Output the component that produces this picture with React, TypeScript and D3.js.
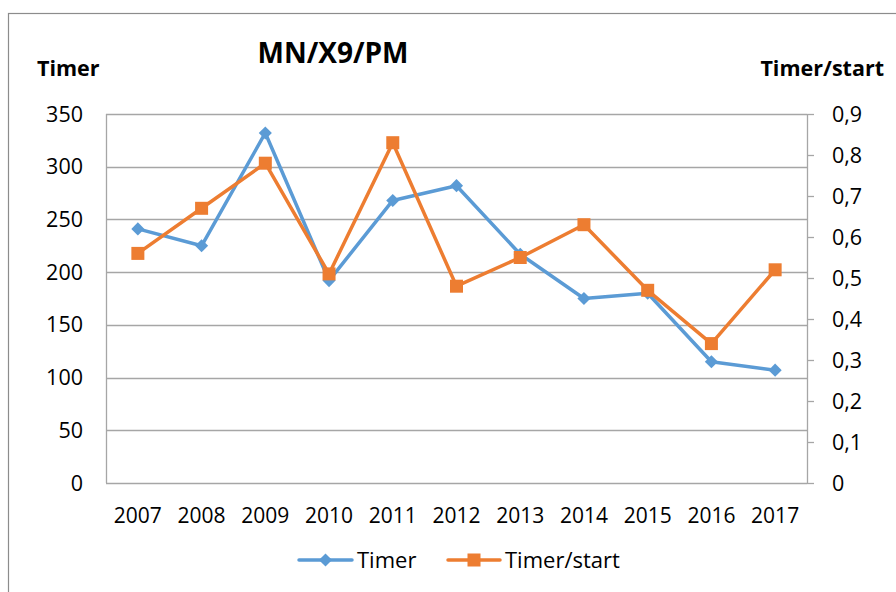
import React, { useRef, useEffect } from 'react';
import * as d3 from 'd3';

const years = ['2007', '2008', '2009', '2010', '2011', '2012', '2013', '2014', '2015', '2016', '2017'];
const timer = [241, 225, 332, 192, 268, 282, 217, 175, 180, 115, 107];
const timerPerStart = [0.56, 0.67, 0.78, 0.51, 0.83, 0.48, 0.55, 0.63, 0.47, 0.34, 0.52];
const leftTicks = [0, 50, 100, 150, 200, 250, 300, 350];
const rightTicks = [0, 0.1, 0.2, 0.3, 0.4, 0.5, 0.6, 0.7, 0.8, 0.9];

const BLUE = '#5B9BD5';
const ORANGE = '#ED7D31';
const GRID = '#A6A6A6';
const FONT = '"Open Sans", "Noto Sans", sans-serif';

const App: React.FC = () => {
  const ref = useRef<SVGSVGElement | null>(null);

  useEffect(() => {
    if (!ref.current) return;
    const svg = d3.select(ref.current);
    svg.selectAll('*').remove();

    const width = 896;
    const height = 592;
    const plot = { left: 106, right: 807, top: 114, bottom: 483 };

    // outer chart frame
    svg.append('rect')
      .attr('x', 8.5).attr('y', 13.5)
      .attr('width', 900).attr('height', 600)
      .attr('fill', 'white').attr('stroke', '#8c8c8c').attr('stroke-width', 1.2);

    const x = d3.scaleBand().domain(years).range([plot.left, plot.right]);
    const yL = d3.scaleLinear().domain([0, 350]).range([plot.bottom, plot.top]);
    const yR = d3.scaleLinear().domain([0, 0.9]).range([plot.bottom, plot.top]);

    // gridlines
    svg.append('g').selectAll('line')
      .data(leftTicks)
      .enter().append('line')
      .attr('x1', plot.left).attr('x2', plot.right)
      .attr('y1', d => Math.round(yL(d)) + 0.5).attr('y2', d => Math.round(yL(d)) + 0.5)
      .attr('stroke', GRID).attr('stroke-width', 1.3);

    // left axis line
    svg.append('line')
      .attr('x1', plot.left + 0.5).attr('x2', plot.left + 0.5)
      .attr('y1', plot.top).attr('y2', plot.bottom)
      .attr('stroke', GRID).attr('stroke-width', 1.3);

    // right axis line + ticks
    svg.append('line')
      .attr('x1', plot.right + 0.5).attr('x2', plot.right + 0.5)
      .attr('y1', plot.top).attr('y2', plot.bottom)
      .attr('stroke', GRID).attr('stroke-width', 1.3);
    svg.append('g').selectAll('line')
      .data(rightTicks)
      .enter().append('line')
      .attr('x1', plot.right).attr('x2', plot.right + 7)
      .attr('y1', d => Math.round(yR(d)) + 0.5).attr('y2', d => Math.round(yR(d)) + 0.5)
      .attr('stroke', GRID).attr('stroke-width', 1.3);

    // tick labels
    svg.append('g').selectAll('text')
      .data(leftTicks)
      .enter().append('text')
      .attr('x', 83).attr('y', d => yL(d) + 7.5)
      .attr('text-anchor', 'end')
      .attr('font-family', FONT).attr('font-size', 21.5).attr('fill', '#000')
      .text(d => String(d));

    svg.append('g').selectAll('text')
      .data(rightTicks)
      .enter().append('text')
      .attr('x', 832).attr('y', d => yR(d) + 7.5)
      .attr('text-anchor', 'start')
      .attr('font-family', FONT).attr('font-size', 21.5).attr('fill', '#000')
      .text(d => (d === 0 ? '0' : d3.format('.1f')(d).replace('.', ',')));

    svg.append('g').selectAll('text')
      .data(years)
      .enter().append('text')
      .attr('x', d => (x(d) as number) + x.bandwidth() / 2)
      .attr('y', 523)
      .attr('text-anchor', 'middle')
      .attr('font-family', FONT).attr('font-size', 21).attr('fill', '#000')
      .text(d => d);

    // titles
    svg.append('text')
      .attr('x', 333).attr('y', 63).attr('text-anchor', 'middle')
      .attr('font-family', FONT).attr('font-size', 28).attr('font-weight', 'bold')
      .text('MN/X9/PM');
    svg.append('text')
      .attr('x', 37).attr('y', 76)
      .attr('font-family', FONT).attr('font-size', 21.5).attr('font-weight', 'bold')
      .text('Timer');
    svg.append('text')
      .attr('x', 884).attr('y', 76).attr('text-anchor', 'end')
      .attr('font-family', FONT).attr('font-size', 21.5).attr('font-weight', 'bold')
      .text('Timer/start');

    const cx = (i: number) => (x(years[i]) as number) + x.bandwidth() / 2;

    // Timer series
    const lineL = d3.line<number>().x((_, i) => cx(i)).y(d => yL(d));
    svg.append('path')
      .attr('d', lineL(timer) as string)
      .attr('fill', 'none').attr('stroke', BLUE).attr('stroke-width', 3.5)
      .attr('stroke-linejoin', 'round');
    const diamond = d3.symbol().type(d3.symbolDiamond2).size(110);
    svg.append('g').selectAll('path')
      .data(timer)
      .enter().append('path')
      .attr('d', diamond() as string)
      .attr('transform', (d, i) => `translate(${cx(i)},${yL(d)})`)
      .attr('fill', BLUE);

    // Timer/start series
    const lineR = d3.line<number>().x((_, i) => cx(i)).y(d => yR(d));
    svg.append('path')
      .attr('d', lineR(timerPerStart) as string)
      .attr('fill', 'none').attr('stroke', ORANGE).attr('stroke-width', 3.5)
      .attr('stroke-linejoin', 'round');
    svg.append('g').selectAll('rect')
      .data(timerPerStart)
      .enter().append('rect')
      .attr('x', (_, i) => cx(i) - 6.5).attr('y', d => yR(d) - 6.5)
      .attr('width', 13).attr('height', 13)
      .attr('fill', ORANGE);

    // legend
    const leg = svg.append('g');
    leg.append('line').attr('x1', 299).attr('x2', 352).attr('y1', 560).attr('y2', 560)
      .attr('stroke', BLUE).attr('stroke-width', 3.5).attr('stroke-linecap', 'round');
    leg.append('path').attr('d', diamond() as string)
      .attr('transform', 'translate(325.5,560)').attr('fill', BLUE);
    leg.append('text').attr('x', 357).attr('y', 567.5)
      .attr('font-family', FONT).attr('font-size', 22).text('Timer');
    leg.append('line').attr('x1', 448).attr('x2', 500).attr('y1', 560).attr('y2', 560)
      .attr('stroke', ORANGE).attr('stroke-width', 3.5).attr('stroke-linecap', 'round');
    leg.append('rect').attr('x', 467.5).attr('y', 553.5).attr('width', 13).attr('height', 13)
      .attr('fill', ORANGE);
    leg.append('text').attr('x', 505).attr('y', 567.5)
      .attr('font-family', FONT).attr('font-size', 22).text('Timer/start');

    svg.attr('width', width).attr('height', height);
  }, []);

  return (
    <svg
      ref={ref}
      width={896}
      height={592}
      style={{ position: 'absolute', left: 0, top: 0, background: 'white' }}
    />
  );
};

export default App;
